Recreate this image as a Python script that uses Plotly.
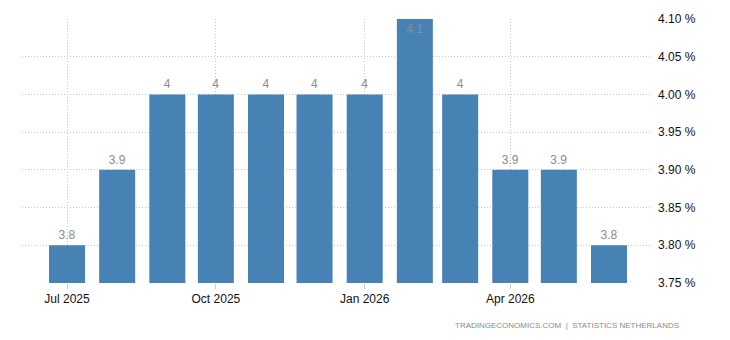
import plotly.graph_objects as go

months = ["2025-07-01", "2025-08-01", "2025-09-01", "2025-10-01", "2025-11-01", "2025-12-01",
          "2026-01-01", "2026-02-01", "2026-03-01", "2026-04-01", "2026-05-01", "2026-06-01"]
values = [3.8, 3.9, 4.0, 4.0, 4.0, 4.0, 4.0, 4.1, 4.0, 3.9, 3.9, 3.8]
labels = ["3.8", "3.9", "4", "4", "4", "4", "4", "4.1", "4", "3.9", "3.9", "3.8"]
tick_vals = ["2025-07-01", "2025-10-01", "2026-01-01", "2026-04-01"]
tick_text = ["Jul 2025", "Oct 2025", "Jan 2026", "Apr 2026"]
y_ticks = [3.75, 3.80, 3.85, 3.90, 3.95, 4.00, 4.05, 4.10]

positions = ["inside" if v >= 4.1 else "outside" for v in values]

fig = go.Figure(go.Bar(
    x=months, y=values,
    text=labels, textposition=positions,
    insidetextanchor="end",
    textfont=dict(color="#8c8c8c", size=12, family="Liberation Sans, Arial"),
    marker=dict(color="#4682B4", line=dict(width=0)),
    width=22.25 * 86400000,
    cliponaxis=True,
))

grid = dict(showgrid=True, gridcolor="#c8c8c8", griddash="1px,2px", gridwidth=1)

fig.update_layout(
    width=730, height=340,
    margin=dict(l=22, r=78, t=19, b=57),
    paper_bgcolor="white", plot_bgcolor="white",
    showlegend=False,
    font=dict(family="Liberation Sans, Arial", size=12, color="#111111"),
    xaxis=dict(
        type="date",
        range=["2025-06-03 04:00", "2026-06-27 14:00"],
        tickvals=tick_vals, ticktext=tick_text,
        ticks="outside", ticklen=5, tickcolor="#cccccc",
        showline=False, zeroline=False,
        tickfont=dict(size=12, color="#111111"),
        **grid,
    ),
    yaxis=dict(
        side="right",
        range=[3.75, 4.10],
        tickvals=y_ticks,
        ticktext=[f"{t:.2f} %" for t in y_ticks],
        zeroline=False, showline=False,
        ticks="", ticklabelstandoff=5,
        tickfont=dict(size=12, color="#111111"),
        **grid,
    ),
    annotations=[dict(
        text="TRADINGECONOMICS.COM  |  STATISTICS NETHERLANDS",
        xref="paper", yref="paper", x=(681 - 22) / 630, y=-(325 - 283) / 264,
        xanchor="right", yanchor="middle", showarrow=False,
        font=dict(size=8, color="#8a8a8a", family="Liberation Sans, Arial"),
    )],
)

fig.write_html("out.html")
